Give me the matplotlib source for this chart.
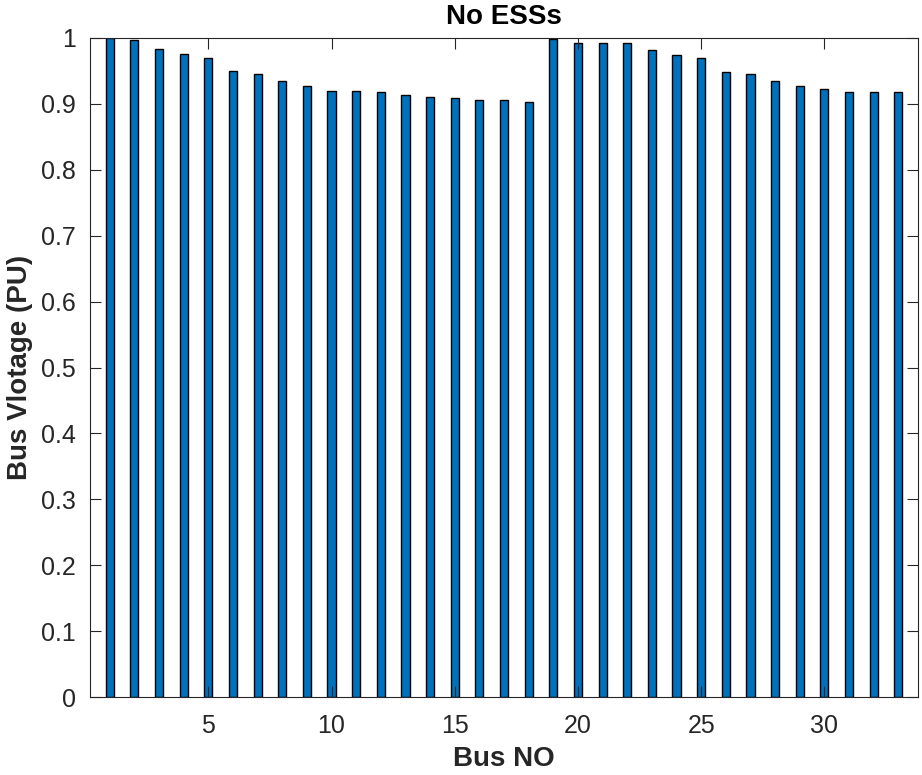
import numpy as np
import matplotlib
matplotlib.use('Agg')
import matplotlib.pyplot as plt

plt.rcParams['font.family'] = ['Liberation Sans', 'DejaVu Sans']

# bus numbers and voltages (p.u.)
bus_no = np.arange(1, 34)
voltage = [1.000, 0.997, 0.983, 0.976, 0.969, 0.950, 0.946, 0.934, 0.927, 0.920,
           0.920, 0.918, 0.913, 0.911, 0.909, 0.906, 0.906, 0.903, 0.998, 0.993,
           0.993, 0.993, 0.981, 0.974, 0.969, 0.948, 0.946, 0.934, 0.927, 0.923,
           0.918, 0.918, 0.918]
x_ticks = [5, 10, 15, 20, 25, 30]
y_ticks = np.round(np.arange(0, 1.01, 0.1), 1)

fig = plt.figure(figsize=(9.22, 7.75), dpi=100)
ax = fig.add_axes([0.0976, 0.1006, 0.8981, 0.8504])

ax.bar(bus_no, voltage, width=0.33, color='#0072BD', edgecolor='black', linewidth=1.0)

ax.set_xlim(0.2, 33.8)
ax.set_ylim(0, 1)
ax.set_xticks(x_ticks)
ax.set_yticks(y_ticks)
ax.set_yticklabels(['%g' % v for v in y_ticks])

axis_col = '#262626'
for s in ax.spines.values():
    s.set_color(axis_col)
    s.set_linewidth(0.8)
ax.tick_params(direction='in', length=8, width=0.8, colors=axis_col,
               labelsize=18, top=True, right=True)
ax.tick_params(axis='x', pad=12)
ax.tick_params(axis='y', pad=10)

ax.set_title('No ESSs', fontsize=20, fontweight='bold', color='black', pad=10)
ax.set_xlabel('Bus NO', fontsize=20, fontweight='bold', color=axis_col, labelpad=6)
ax.set_ylabel('Bus Vlotage (PU)', fontsize=20, fontweight='bold', color=axis_col, labelpad=6)

plt.savefig('out.png', dpi=100)
